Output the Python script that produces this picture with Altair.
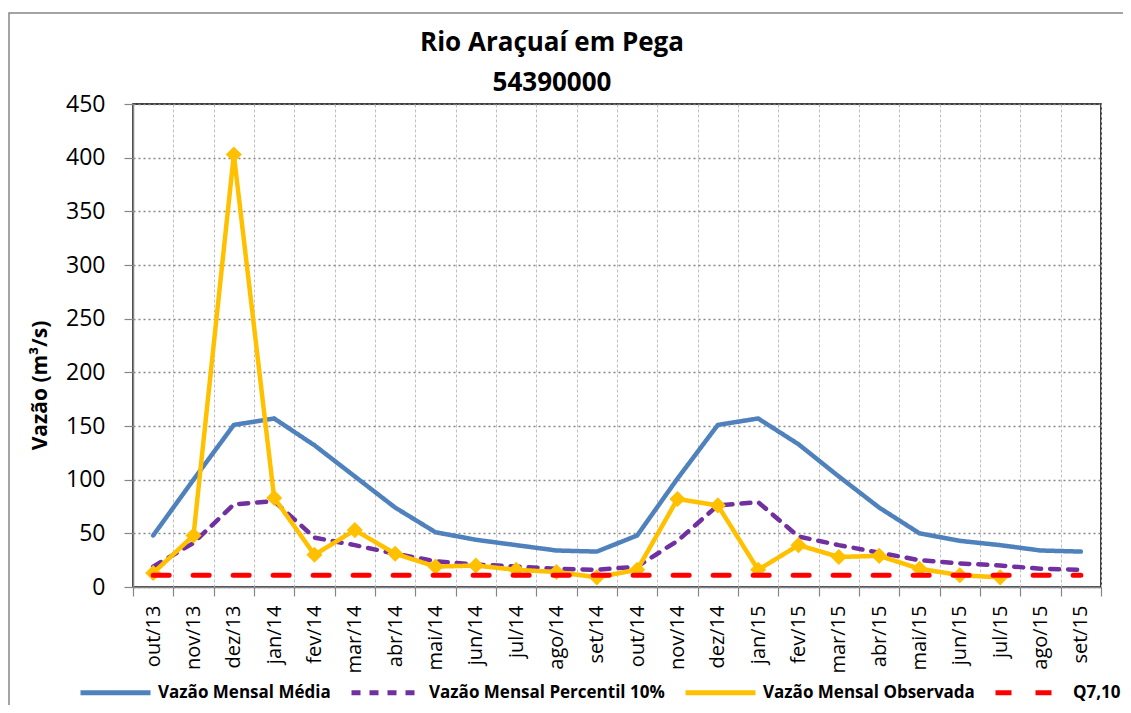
import json
import altair as alt
import pandas as pd

months = ["out/13", "nov/13", "dez/13", "jan/14", "fev/14", "mar/14", "abr/14", "mai/14",
          "jun/14", "jul/14", "ago/14", "set/14", "out/14", "nov/14", "dez/14", "jan/15",
          "fev/15", "mar/15", "abr/15", "mai/15", "jun/15", "jul/15", "ago/15", "set/15"]

media = [48, 100, 151, 157, 132, 103, 74, 51, 44, 39, 34, 33,
         48, 101, 151, 157, 133, 103, 74, 50, 43, 39, 34, 33]
p10 = [19, 41, 77, 80, 46, 39, 31, 24, 21, 19, 17, 16,
       19, 43, 76, 79, 47, 39, 32, 25, 22, 20, 17, 16]
obs = [13, 48, 403, 83, 30, 53, 31, 19, 20, 16, 14, 9,
       16, 82, 76, 16, 39, 28, 29, 17, 11, 9]
q710 = [11, 11, 11, 11, 11, 11, 11, 11, 11, 11, 11, 11,
        11, 11, 11, 11, 11, 11, 11, 11, 11, 11, 11, 11]

series_names = ["Vazão Mensal Média", "Vazão Mensal Percentil 10%",
                "Vazão Mensal Observada", "Q7,10"]
series_colors = ["#4f81bd", "#7030a0", "#ffc000", "#ff0000"]
series_dash = [[1, 0], [9, 9], [1, 0], [16, 24]]

rows = []
for name, vals in zip(series_names, [media, p10, obs, q710]):
    for i, v in enumerate(vals):
        rows.append({"idx": i, "mes": months[i], "serie": name, "valor": v})
df = pd.DataFrame(rows)

W, H = 968, 483
FONT = "Open Sans"

label_expr = f"datum.value < 23 ? {json.dumps(months)}[datum.value + 0.5] : ''"

x_enc = alt.X(
    "idx:Q",
    scale=alt.Scale(domain=[-0.5, 23.5], nice=False, zero=False),
    axis=alt.Axis(
        values=[i - 0.5 for i in range(25)],
        labelExpr=label_expr,
        labelAngle=270,
        labelOffset=W / 48,
        labelFlush=False,
        labelOverlap=False,
        labelBound=False,
        labelFont=FONT,
        labelFontSize=20,
        labelColor="black",
        labelPadding=9,
        title=None,
        grid=True,
        gridColor="#c0c0c0",
        gridDash=[3, 2],
        gridWidth=1,
        domainColor="#868686",
        domainWidth=1.5,
        tickColor="#868686",
        tickSize=9,
        tickWidth=1.2,
    ),
)

y_enc = alt.Y(
    "valor:Q",
    scale=alt.Scale(domain=[0, 450], nice=False),
    axis=alt.Axis(
        values=list(range(0, 451, 50)),
        title="Vazão (m³/s)",
        titleFont=FONT,
        titleFontSize=21,
        titleFontWeight="bold",
        titleColor="black",
        titleX=-93,
        titleY=281,
        titleAlign="center",
        titleBaseline="middle",
        labelFont=FONT,
        labelFontSize=23,
        labelColor="black",
        labelPadding=19,
        grid=True,
        gridColor="#868686",
        gridDash=[2, 3],
        gridWidth=1.3,
        domainColor="#868686",
        domainWidth=1.5,
        tickColor="#868686",
        tickSize=9,
        tickWidth=1.2,
    ),
)

legend = alt.Legend(
    title=None,
    orient="none",
    legendX=-55,
    legendY=551,
    direction="horizontal",
    columns=4,
    symbolType="stroke",
    symbolSize=4900,
    symbolStrokeWidth=5,
    labelFont=FONT,
    labelFontSize=17,
    labelFontWeight="bold",
    labelColor="black",
    labelOffset=5,
    labelLimit=0,
    columnPadding=10,
)

color_enc = alt.Color("serie:N", scale=alt.Scale(domain=series_names, range=series_colors),
                      legend=legend)
dash_enc = alt.StrokeDash("serie:N", scale=alt.Scale(domain=series_names, range=series_dash),
                          legend=legend)

base = alt.Chart(df).encode(x=x_enc, y=y_enc)


def line_layer(name, width):
    return base.transform_filter(alt.datum.serie == name).mark_line(
        strokeWidth=width, strokeCap="round", strokeJoin="round"
    ).encode(color=color_enc, strokeDash=dash_enc)


blue = line_layer(series_names[0], 4.5)
purple = line_layer(series_names[1], 4.5)
yellow = line_layer(series_names[2], 4.5)
yellow_pts = base.transform_filter(alt.datum.serie == series_names[2]).mark_point(
    shape="diamond", filled=True, size=260, opacity=1, color="#ffc000"
)
red = line_layer(series_names[3], 5)

# outer chart frame (decoration)
frame = alt.Chart(pd.DataFrame({"f": [0]})).mark_rect(
    fill=None, stroke="#868686", strokeWidth=1.5, clip=False
).encode(x=alt.value(-124), x2=alt.value(1010), y=alt.value(-91), y2=alt.value(620))

chart = alt.layer(frame, blue, purple, yellow, yellow_pts, red).properties(
    width=W,
    height=H,
    padding={"left": 125, "top": 96, "right": 22, "bottom": 118},
    autosize=alt.AutoSizeParams(type="none"),
    title=alt.TitleParams(
        text=["Rio Araçuaí em Pega", "54390000"],
        font=FONT,
        fontSize=26,
        fontWeight="bold",
        color="black",
        lineHeight=40,
        anchor="middle",
        frame="group",
        dx=-65,
        offset=-84,
    ),
).configure_view(stroke="#000000", strokeWidth=1.5)

chart.save("out.html", embed_options={"renderer": "svg", "actions": False})
